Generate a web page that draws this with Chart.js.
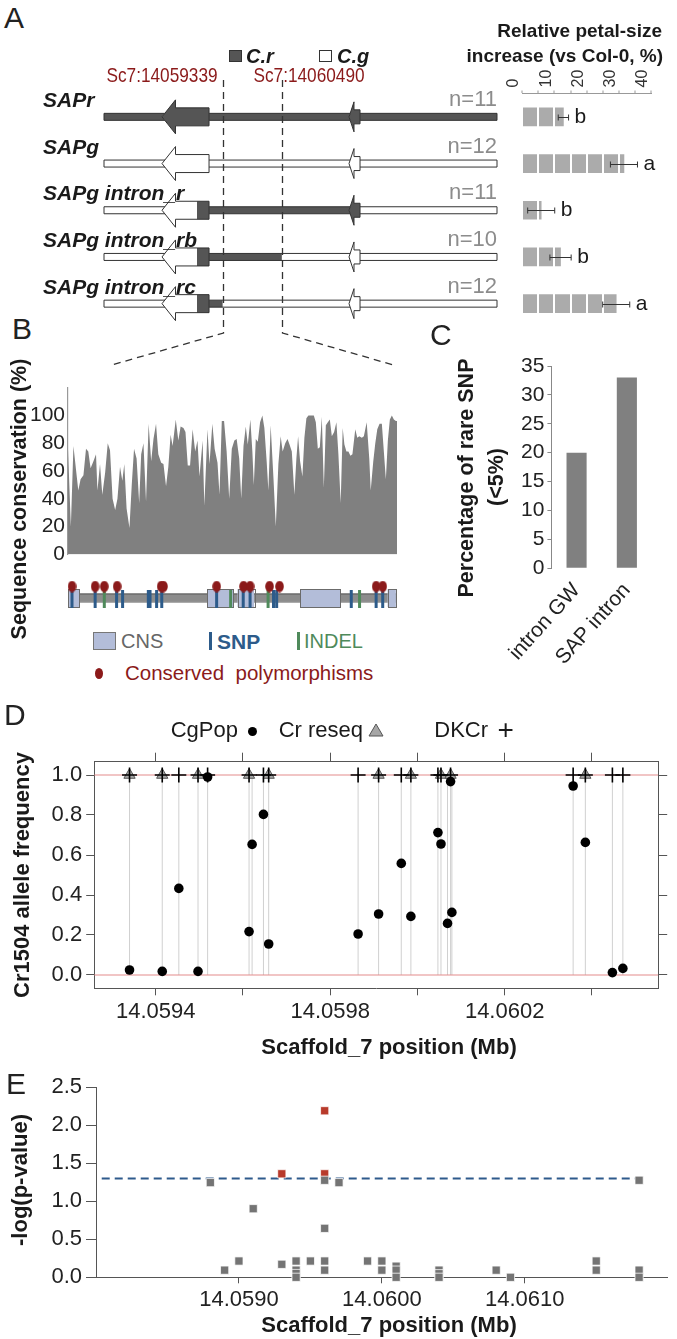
<!DOCTYPE html>
<html>
<head>
<meta charset="utf-8">
<script src="https://cdn.jsdelivr.net/npm/chart.js@4.4.1/dist/chart.umd.min.js"></script>
<style>
html,body{margin:0;padding:0;background:#fff;}
#page{position:relative;width:677px;height:1339px;overflow:hidden;background:#fff;font-family:'Liberation Sans',Arial,Helvetica,sans-serif;color:#1a1a1a;}
#page canvas{position:absolute;}
.t{position:absolute;white-space:pre;line-height:1;}
.k{position:absolute;box-sizing:border-box;}
</style>
</head>
<body>
<div id="page"></div>
<script>
// ---------------- DATA ----------------
// Panel A
const geneRows = ['SAPr','SAPg','SAPg intron_r','SAPg intron_rb','SAPg intron_rc'];
const nPlants = [11,12,11,10,12];
const petalMean = [12.8,31.6,5.9,11.9,29.2];
const petalErr = [1.6,4.2,4.2,3.3,4.2];
const petalGroup = ['b','a','b','b','a'];
const petalTicks = [0,10,20,30,40];
const petalGrid = [0,5,10,15,20,25,30,35,40];
const geneSpan = [14057033,14064673];
const exon1 = [14058161,14058423,14059075];   // tip, head base, end
const exon2 = [14061796,14061893,14062010];
const swapBounds = [14059339,14060490];
const crSegments = [[14057033,14064673], null, [14058841,14062010], [14058841,14060490], [14058841,14059339]];

// Panel B (positions in bp from Sc7:14059339)
const regionLen = 1151;
const consPos = [0,10,19,36,44,54,63,71,79,89,98,103,112,120,130,139,147,156,165,173,182,190,197,205,215,223,231,240,249,256,264,273,282,291,299,308,316,326,334,343,351,359,366,377,386,394,404,411,419,427,436,445,453,460,471,477,488,495,505,513,523,530,538,546,555,564,573,582,590,599,606,614,622,629,638,645,650,657,664,672,680,687,695,701,709,719,727,736,744,751,760,768,775,783,792,799,805,812,820,827,834,841,851,860,867,874,881,888,895,902,909,916,923,931,939,946,954,961,967,974,981,988,995,1005,1012,1019,1028,1035,1045,1054,1059,1068,1075,1082,1090,1098,1105,1112,1119,1126,1133,1140,1147,1151];
const consVal = [76,20,78,46,54,57,76,74,62,67,72,46,65,43,59,80,75,40,32,40,63,53,65,33,19,50,76,69,37,72,80,38,94,67,83,94,72,66,65,49,63,86,78,97,82,92,91,88,64,64,90,74,82,56,82,35,90,65,94,76,66,43,96,96,74,40,76,82,83,69,40,78,92,79,97,74,50,83,81,95,100,91,67,46,93,54,20,65,85,74,80,83,79,74,43,69,85,67,56,84,98,100,100,100,95,76,77,99,48,93,95,97,85,88,95,72,37,91,79,74,74,71,72,90,84,85,84,85,95,69,46,67,80,90,94,94,74,54,82,97,100,97,96,96];
const cnsStart = [0,487,593,812,1118];
const cnsEnd = [40,579,651,952,1147];
const snpB = [14,95,170,191,281,287,310,328,520,613,637,719,730,991,1078,1101];
const indelB = [127,569,700,1020];
const consPolyB = [14,95,127,172,326,334,520,614,637,705,740,1078,1101];

// Panel C
const rareCats = ['intron GW','SAP intron'];
const rareVals = [20,33];
const rareTicks = [0,5,10,15,20,25,30,35];

// Panel D
const dPos = [14059340,14059415,14059453,14059497,14059519,14059614,14059621,14059647,14059659,14059864,14059911,14059963,14059985,14060047,14060054,14060069,14060076,14060079,14060357,14060385,14060447,14060471];
const cgPop = [0.025,0.018,0.433,0.018,0.99,0.217,0.653,0.803,0.155,0.205,0.305,0.558,0.293,0.712,0.655,0.258,0.967,0.313,0.945,0.663,0.012,0.033];
const crReseqPos = [14059340,14059415,14059497,14059614,14059659,14059911,14059985,14060054,14060076,14060385];
const dkcrPos = [14059340,14059415,14059453,14059497,14059519,14059614,14059647,14059659,14059864,14059911,14059963,14059985,14060047,14060054,14060076,14060357,14060385,14060447,14060471];
const dTicks = [14059400,14059600,14059800,14060000,14060200,14060400];
const dLabeled = [14059400,14059800,14060200];
const dYTicks = [0,0.2,0.4,0.6,0.8,1.0];

// Panel E
const ePos = [14058800,14058900,14059000,14059100,14059300,14059300,14059400,14059400,14059400,14059400,14059500,14059600,14059600,14059600,14059600,14059600,14059600,14059700,14059900,14060000,14060000,14060100,14060100,14060100,14060400,14060400,14060400,14060800,14060900,14061500,14061500,14061800,14061800,14061800];
const eVal = [1.245,0.094,0.214,0.902,1.361,0.171,0.214,0.094,0.05,0.0,0.214,2.19,1.361,1.276,0.644,0.214,0.094,1.245,0.214,0.214,0.094,0.146,0.094,0.0,0.094,0.047,0.0,0.094,0.0,0.214,0.094,1.276,0.094,0.0];
const eTicks = [14059000,14060000,14061000];
const pThreshold = 1.3;
const thrSpan = [14058040,14061790];

// ---------------- HELPERS ----------------
const page = document.getElementById('page');
const FONT = "'Liberation Sans', Arial, Helvetica, sans-serif";
Chart.defaults.font.family = FONT;
Chart.defaults.color = '#1a1a1a';
Chart.defaults.animation = false;
Chart.defaults.responsive = false;
Chart.defaults.plugins.legend.display = false;
Chart.defaults.plugins.tooltip.enabled = false;
Chart.defaults.layout.autoPadding = false;

function mk(left, top, w, h){
  const c = document.createElement('canvas');
  c.width = w; c.height = h;
  c.style.left = left+'px'; c.style.top = top+'px';
  c.style.width = w+'px'; c.style.height = h+'px';
  page.appendChild(c); return c;
}
function txt(s, x, y, o={}){
  const d = document.createElement('div');
  d.className = 't'; d.textContent = s;
  d.style.fontSize = (o.size||21)+'px';
  d.style.fontWeight = o.weight||'normal';
  d.style.fontStyle = o.style||'normal';
  d.style.color = o.color||'#1a1a1a';
  d.style.left = x+'px'; d.style.top = y+'px';
  const ax = o.align==='left' ? '0' : o.align==='right' ? '-100%' : '-50%';
  let tf = `translate(${ax},-50%)`;
  if (o.rot) tf += ` rotate(${o.rot}deg)`;
  if (o.sx) tf += ` scaleX(${o.sx})`;
  d.style.transform = tf;
  page.appendChild(d); return d;
}
function key(left, top, w, h, css){
  const d = document.createElement('div'); d.className = 'k';
  Object.assign(d.style, {left:left+'px', top:top+'px', width:w+'px', height:h+'px'}, css);
  page.appendChild(d); return d;
}

// ---------------- PANEL A : gene models ----------------
function arrowPath(tip, base, end, cy, hh, bh){
  const p = new Path2D();
  p.moveTo(tip, cy); p.lineTo(base, cy-hh); p.lineTo(base, cy-bh); p.lineTo(end, cy-bh);
  p.lineTo(end, cy+bh); p.lineTo(base, cy+bh); p.lineTo(base, cy+hh); p.closePath();
  return p;
}
const genePlugin = {
  id:'genes',
  afterDraw(ch){
    const {ctx} = ch; const x = ch.scales.x, y = ch.scales.y;
    ctx.save();
    geneRows.forEach((name, i) => {
      const cy = y.getPixelForValue(i+0.5);
      const L0 = x.getPixelForValue(geneSpan[0]), L1 = x.getPixelForValue(geneSpan[1]);
      const line = new Path2D(); line.rect(L0, cy-3.5, L1-L0, 7);
      const a1 = arrowPath(x.getPixelForValue(exon1[0]), x.getPixelForValue(exon1[1]), x.getPixelForValue(exon1[2]), cy, 17, 9);
      const a2 = arrowPath(x.getPixelForValue(exon2[0]), x.getPixelForValue(exon2[1]), x.getPixelForValue(exon2[2]), cy, 15, 7);
      const seg = crSegments[i];
      [line, a1, a2].forEach(p => {
        ctx.fillStyle = '#ffffff'; ctx.fill(p);
        if (seg){
          const d0 = x.getPixelForValue(seg[0]), d1 = x.getPixelForValue(seg[1]);
          ctx.save(); ctx.beginPath(); ctx.rect(d0, cy-30, d1-d0, 60); ctx.clip();
          ctx.fillStyle = '#555555'; ctx.fill(p); ctx.restore();
        }
        ctx.strokeStyle = '#333'; ctx.lineWidth = 1; ctx.stroke(p);
      });
    });
    const top = ch.chartArea.top, bot = ch.chartArea.bottom;
    ctx.setLineDash([7,5]); ctx.strokeStyle = '#333'; ctx.lineWidth = 1.3;
    swapBounds.forEach((b, j) => {
      const px = Math.round(x.getPixelForValue(b)) + 0.5;
      ctx.beginPath(); ctx.moveTo(px, top-13.5); ctx.lineTo(px, bot+6);
      ctx.lineTo(px + (j ? 111 : -112), bot+38); ctx.stroke();
    });
    ctx.restore();
  }
};
const GEN = {left:40, top:60, w:470, h:320};
const geneChart = new Chart(mk(GEN.left, GEN.top, GEN.w, GEN.h), {
  type:'scatter',
  data:{datasets:[]},
  options:{
    layout:{padding:{left:64, right:13, top:33.5, bottom:53}},
    scales:{
      x:{type:'linear', min:geneSpan[0], max:geneSpan[1], display:false},
      y:{type:'linear', min:0, max:5, reverse:true, display:false}
    }
  },
  plugins:[genePlugin]
});

// ---------------- PANEL A : petal size bars ----------------
const PET = {left:500, top:60, w:177, h:270};
const errPlugin = {
  id:'err',
  afterDraw(ch){
    const {ctx} = ch; const xs = ch.scales.x, ys = ch.scales.y;
    ctx.save(); ctx.strokeStyle = '#333'; ctx.lineWidth = 1;
    petalMean.forEach((m, i) => {
      const yy = Math.round(ys.getPixelForValue(i)) + 0.5;
      const a = xs.getPixelForValue(m - petalErr[i]), b = xs.getPixelForValue(m + petalErr[i]);
      ctx.beginPath();
      ctx.moveTo(a, yy); ctx.lineTo(b, yy);
      ctx.moveTo(a, yy-3); ctx.lineTo(a, yy+3);
      ctx.moveTo(b, yy-3); ctx.lineTo(b, yy+3);
      ctx.stroke();
    });
    ctx.restore();
  }
};
const petalChart = new Chart(mk(PET.left, PET.top, PET.w, PET.h), {
  type:'bar',
  data:{labels:geneRows, datasets:[{data:petalMean, backgroundColor:'#ababab', borderWidth:0, barThickness:18}]},
  options:{
    indexAxis:'y',
    layout:{padding:{left:17, right:26, top:0, bottom:3}},
    scales:{
      x:{position:'top', min:0, max:40,
        afterFit(s){ s.height = 33.5; },
        afterBuildTicks(s){ s.ticks = petalGrid.map(v => ({value:v})); },
        ticks:{autoSkip:false, minRotation:90, maxRotation:90, padding:3, labelOffset:11, font:{size:16}, color:'#333',
               callback:v => petalTicks.includes(v) ? String(v) : ''},
        grid:{z:1, color:'#ffffff', lineWidth:2, drawTicks:true, tickLength:3, tickColor:'#999', tickWidth:1},
        border:{display:true, color:'#999', width:1, z:2}},
      y:{display:false}
    }
  },
  plugins:[errPlugin]
});

// ---------------- PANEL B : conservation area ----------------
new Chart(mk(0, 372, 410, 198), {
  type:'line',
  data:{datasets:[{data:consPos.map((p,i)=>({x:p, y:consVal[i]})), fill:'origin', backgroundColor:'#808080',
    borderColor:'rgba(0,0,0,0)', borderWidth:0, pointRadius:0, tension:0}]},
  options:{
    layout:{padding:{top:10, right:13, left:0, bottom:0}},
    scales:{
      x:{type:'linear', min:0, max:regionLen, display:false},
      y:{min:0, max:120, afterFit(s){ s.width = 68; },
        afterBuildTicks(s){ s.ticks = [0,20,40,60,80,100].map(v => ({value:v})); },
        ticks:{font:{size:21}, color:'#222', padding:3},
        grid:{display:false, drawTicks:false},
        border:{display:true, color:'#999', width:1.2}}
    }
  }
});

// ---------------- PANEL B : gene structure ----------------
const ell = document.createElement('canvas'); ell.width = 9; ell.height = 12;
(function(){ const g = ell.getContext('2d'); g.fillStyle = '#8b1a1a'; g.beginPath(); g.ellipse(4.5,6,4.3,5.8,0,0,Math.PI*2); g.fill(); })();
const structPlugin = {
  id:'struct',
  beforeDatasetsDraw(ch){
    const {ctx} = ch; const x = ch.scales.x, y = ch.scales.y;
    ctx.save();
    const cy = y.getPixelForValue(0.4375);
    ctx.fillStyle = '#8c8c8c'; ctx.strokeStyle = '#5a5a5a'; ctx.lineWidth = 1;
    const l0 = x.getPixelForValue(0), l1 = x.getPixelForValue(regionLen);
    ctx.fillRect(l0, cy-4, l1-l0, 8); ctx.strokeRect(l0+0.5, cy-4+0.5, l1-l0-1, 8);
    const t = y.getPixelForValue(0.65), b = y.getPixelForValue(0.2);
    cnsStart.forEach((s, i) => {
      const a = x.getPixelForValue(s), e = x.getPixelForValue(cnsEnd[i]);
      ctx.fillStyle = '#b3bdd9'; ctx.fillRect(a, t, e-a, b-t);
      ctx.strokeStyle = '#6b6b6b'; ctx.strokeRect(Math.round(a)+0.5, Math.round(t)+0.5, Math.round(e-a), Math.round(b-t));
    });
    ctx.restore();
  }
};
new Chart(mk(60, 575, 345, 40), {
  type:'scatter',
  data:{datasets:[
    {data:consPolyB.map(p=>({x:p, y:0.7125})), pointStyle:ell, pointRadius:6, clip:false},
    {data:snpB.map(p=>({x:p, y:0.4})), pointStyle:'line', pointRotation:90, pointRadius:9, pointBorderColor:'#2d5b8a', pointBorderWidth:3, clip:false},
    {data:indelB.map(p=>({x:p, y:0.4})), pointStyle:'line', pointRotation:90, pointRadius:9, pointBorderColor:'#4f8a5b', pointBorderWidth:3, clip:false}
  ]},
  options:{
    layout:{padding:{left:8, right:8, top:0, bottom:0}},
    scales:{x:{type:'linear', min:0, max:regionLen, display:false}, y:{min:0, max:1, display:false}}
  },
  plugins:[structPlugin]
});

// ---------------- PANEL C ----------------
new Chart(mk(490, 350, 187, 370), {
  type:'bar',
  data:{labels:rareCats, datasets:[{data:rareVals, backgroundColor:'#808080', barPercentage:0.4, categoryPercentage:1}]},
  options:{
    layout:{padding:{top:16, right:25, left:0, bottom:0}},
    scales:{
      x:{afterFit(s){ s.height = 151.7; }, grid:{display:false, drawTicks:false}, border:{display:false},
        ticks:{minRotation:48, maxRotation:48, font:{size:21}, color:'#222', padding:10}},
      y:{min:0, max:35, afterFit(s){ s.width = 53.3; },
        afterBuildTicks(s){ s.ticks = rareTicks.map(v => ({value:v})); },
        ticks:{font:{size:21}, color:'#222', padding:3},
        grid:{drawOnChartArea:false, tickLength:4, color:'#888'},
        border:{color:'#888'}}
    }
  }
});

// ---------------- PANEL D ----------------
const dMin = 14059259, dMax = 14060552;
const vLines = []; dPos.forEach(p => { vLines.push({x:p, y:0}, {x:p, y:1}, {x:p, y:null}); });
new Chart(mk(0, 740, 677, 300), {
  type:'scatter',
  data:{datasets:[
    {data:dPos.map((p,i)=>({x:p, y:cgPop[i]})), pointStyle:'circle', pointRadius:4.8, pointBackgroundColor:'#000', pointBorderWidth:0, clip:false},
    {data:dkcrPos.map(p=>({x:p, y:1})), pointStyle:'cross', pointRadius:7.5, pointBorderColor:'#000', pointBorderWidth:1.6, clip:false},
    {data:crReseqPos.map(p=>({x:p, y:1})), pointStyle:'triangle', pointRadius:6.5, pointBackgroundColor:'#a6a6a6', pointBorderColor:'#555', pointBorderWidth:1, clip:false},
    {data:[{x:dMin,y:0},{x:dMax,y:0},{x:dMax,y:null},{x:dMin,y:1},{x:dMax,y:1}], showLine:true, spanGaps:false, borderColor:'#e38b8b', borderWidth:1.2, pointRadius:0},
    {data:vLines, showLine:true, spanGaps:false, borderColor:'#d0d0d0', borderWidth:1, pointRadius:0}
  ]},
  options:{
    layout:{padding:0},
    scales:{
      x:{type:'linear', position:'bottom', min:dMin, max:dMax,
        afterFit(s){ s.height = 51.7; },
        afterBuildTicks(s){ s.ticks = dTicks.map(v => ({value:v})); },
        ticks:{autoSkip:false, maxRotation:0, font:{size:22}, color:'#222', padding:3,
               callback:v => dLabeled.includes(v) ? (v/1e6).toFixed(4) : ''},
        grid:{drawOnChartArea:false, tickLength:7, color:'#555'}, border:{color:'#555'}},
      x2:{type:'linear', position:'top', min:dMin, max:dMax,
        afterFit(s){ s.height = 21.7; },
        afterBuildTicks(s){ s.ticks = dTicks.map(v => ({value:v})); },
        ticks:{display:false}, grid:{drawOnChartArea:false, tickLength:9, color:'#555'}, border:{color:'#555'}},
      y:{min:-0.0665, max:1.0665, position:'left',
        afterFit(s){ s.width = 94.2; },
        afterBuildTicks(s){ s.ticks = dYTicks.map(v => ({value:v})); },
        ticks:{font:{size:22}, color:'#222', padding:4, callback:v => v.toFixed(1)},
        grid:{drawOnChartArea:false, tickLength:8, color:'#555'}, border:{color:'#555'}},
      y2:{min:-0.0665, max:1.0665, position:'right',
        afterFit(s){ s.width = 18.8; },
        afterBuildTicks(s){ s.ticks = dYTicks.map(v => ({value:v})); },
        ticks:{display:false}, grid:{drawOnChartArea:false, tickLength:9, color:'#555'}, border:{color:'#555'}}
    }
  }
});

// ---------------- PANEL E ----------------
new Chart(mk(0, 1070, 677, 269), {
  type:'scatter',
  data:{datasets:[
    {data:ePos.map((p,i)=>({x:p, y:eVal[i]})), pointStyle:'rect', pointRadius:5.8,
      pointBackgroundColor:eVal.map(v => v > pThreshold ? '#b83a2b' : '#747474'),
      pointBorderColor:'rgba(255,255,255,0.75)', pointBorderWidth:1, clip:false},
    {data:[{x:thrSpan[0], y:pThreshold},{x:thrSpan[1], y:pThreshold}], showLine:true, borderColor:'#2e5a8c', borderWidth:2, borderDash:[8,5], pointRadius:0}
  ]},
  options:{
    layout:{padding:{top:13.3, right:9.3, left:0, bottom:0}},
    scales:{
      x:{type:'linear', min:14058000, max:14062000,
        afterFit(s){ s.height = 61.7; },
        afterBuildTicks(s){ s.ticks = eTicks.map(v => ({value:v})); },
        ticks:{autoSkip:false, maxRotation:0, font:{size:22}, color:'#222', padding:3, callback:v => (v/1e6).toFixed(4)},
        grid:{drawOnChartArea:false, tickLength:6, color:'#555'}, border:{color:'#555'}},
      y:{min:0, max:2.5, afterFit(s){ s.width = 96; },
        afterBuildTicks(s){ s.ticks = [0,0.5,1,1.5,2,2.5].map(v => ({value:v})); },
        ticks:{font:{size:22}, color:'#222', padding:4, callback:v => v.toFixed(1)},
        grid:{drawOnChartArea:false, tickLength:10, color:'#555'}, border:{color:'#555'}}
    }
  }
});

// ---------------- TEXT ----------------
// Panel A
txt('A', 4, 17.5, {size:30, align:'left', color:'#222'});
key(229, 50, 13, 12, {background:'#555', border:'1px solid #333'});
txt('C.r', 246, 56, {size:20, weight:'bold', style:'italic', align:'left'});
key(319, 50, 13, 12, {background:'#fff', border:'1px solid #333'});
txt('C.g', 337, 56, {size:20, weight:'bold', style:'italic', align:'left'});
txt('Relative petal-size', 662, 30, {size:19, weight:'bold', align:'right'});
txt('increase (vs Col-0, %)', 663, 55, {size:19, weight:'bold', align:'right'});
txt('Sc7:' + swapBounds[0], 162, 74, {size:21, color:'#8b1a1a', sx:0.82});
txt('Sc7:' + swapBounds[1], 309, 74, {size:21, color:'#8b1a1a', sx:0.82});
geneRows.forEach((g, i) => {
  const cy = GEN.top + geneChart.scales.y.getPixelForValue(i+0.5);
  txt(g, 43, cy-18, {size:21, weight:'bold', style:'italic', align:'left'});
  txt('n=' + nPlants[i], 497, cy-18, {size:22, color:'#8c8c8c', align:'right'});
  const px = PET.left + petalChart.scales.x.getPixelForValue(petalMean[i] + petalErr[i]) + 6;
  const py = PET.top + petalChart.scales.y.getPixelForValue(i) - 2;
  txt(petalGroup[i], px, py, {size:21, align:'left'});
});

// Panel B
txt('B', 12, 329, {size:30, align:'left', color:'#222'});
txt('Sequence conservation (%)', 19.5, 499, {size:21.5, weight:'bold', rot:-90});
key(93, 632, 23, 18, {background:'#b3bdd9', border:'1px solid #777'});
txt('CNS', 121, 641, {size:20, color:'#666', align:'left'});
key(209, 632, 3, 18, {background:'#2d5b8a'});
txt('SNP', 217, 641, {size:21, weight:'bold', color:'#2d5b8a', align:'left'});
key(297, 632, 3, 18, {background:'#4f8a5b'});
txt('INDEL', 304, 641, {size:20, color:'#4f8a5b', align:'left'});
key(94.5, 667.5, 8, 11, {background:'#8b1a1a', borderRadius:'50%'});
txt('Conserved  polymorphisms', 125, 673, {size:20.5, color:'#8b1a1a', align:'left'});

// Panel C
txt('C', 430, 335, {size:30, align:'left', color:'#222'});
txt('Percentage of rare SNP', 466.7, 477.5, {size:21.5, weight:'bold', rot:-90});
txt('(<5%)', 496.7, 476.7, {size:21.5, weight:'bold', rot:-90});

// Panel D
txt('D', 4, 715, {size:30, align:'left', color:'#222'});
txt('CgPop', 170.7, 730, {size:22, align:'left'});
key(248.3, 726.5, 9, 9, {background:'#000', borderRadius:'50%'});
txt('Cr reseq', 278.7, 730, {size:22, align:'left'});
(function(){
  const s = document.createElementNS('http://www.w3.org/2000/svg','svg');
  s.setAttribute('width','16'); s.setAttribute('height','14');
  s.style.position = 'absolute'; s.style.left = '368px'; s.style.top = '723px';
  s.innerHTML = '<polygon points="8,1 15,13 1,13" fill="#a6a6a6" stroke="#555" stroke-width="1"/>';
  page.appendChild(s);
})();
txt('DKCr', 434.3, 730, {size:22, align:'left'});
txt('+', 505.6, 730, {size:28});
txt('Cr1504 allele frequency', 21.5, 875, {size:22, weight:'bold', rot:-90});
txt('Scaffold_7 position (Mb)', 389, 1047, {size:22, weight:'bold'});

// Panel E
txt('E', 6, 1084, {size:30, align:'left', color:'#222'});
txt('-log(p-value)', 19.5, 1180, {size:22, weight:'bold', rot:-90});
txt('Scaffold_7 position (Mb)', 389, 1325, {size:22, weight:'bold'});
</script>
</body>
</html>
